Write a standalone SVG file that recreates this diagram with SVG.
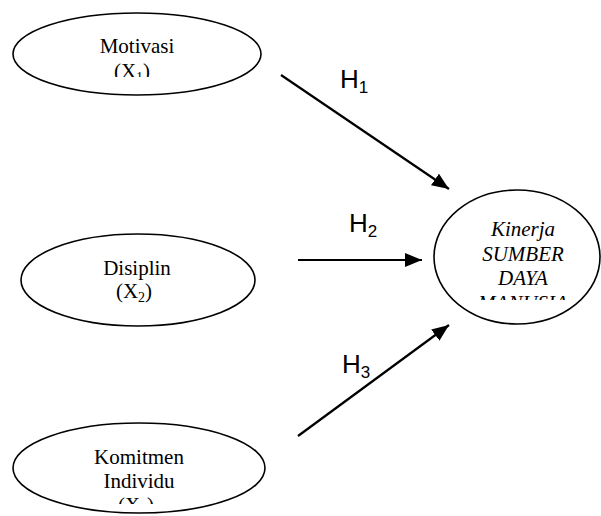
<svg xmlns="http://www.w3.org/2000/svg" width="601" height="516" viewBox="0 0 601 516">
<style>
.node ellipse{fill:#fff;stroke:#000;stroke-width:1.6}
.t{font-family:"Liberation Serif","Times New Roman",serif;font-size:21px;fill:#000;text-anchor:middle}
.it{font-style:italic}
.sub{font-size:14px}
.h{font-family:"Liberation Sans",Arial,sans-serif;font-size:26px;fill:#000}
.hs{font-size:17px}
.edge{stroke:#000;stroke-width:2.2;fill:none;marker-end:url(#ah)}
</style>
<defs>
<marker id="ah" markerUnits="userSpaceOnUse" markerWidth="18" markerHeight="14" refX="17" refY="7" orient="auto">
<path d="M0,0 L17,7 L0,14 z" fill="#000"/>
</marker>
<clipPath id="c1"><rect x="20" y="25" width="240" height="52"/></clipPath>
<clipPath id="c3"><rect x="20" y="440" width="240" height="64"/></clipPath>
<clipPath id="c4"><rect x="440" y="210" width="160" height="90"/></clipPath>
</defs>
<g id="n1" class="node">
<ellipse cx="137" cy="54" rx="124" ry="41"/>
<text class="t" clip-path="url(#c1)"><tspan x="137" y="53">Motivasi</tspan><tspan x="132" y="78">(X<tspan class="sub" dy="4">1</tspan><tspan dy="-4">)</tspan></tspan></text>
</g>
<g id="n2" class="node">
<ellipse cx="138" cy="280" rx="117" ry="46"/>
<text class="t"><tspan x="137" y="275">Disiplin</tspan><tspan x="134" y="298">(X<tspan class="sub" dy="4">2</tspan><tspan dy="-4">)</tspan></tspan></text>
</g>
<g id="n3" class="node">
<ellipse cx="139" cy="468" rx="126" ry="45"/>
<text class="t" clip-path="url(#c3)"><tspan x="139" y="464">Komitmen</tspan><tspan x="139" y="488">Individu</tspan><tspan x="136" y="512">(X<tspan class="sub" dy="4">3</tspan><tspan dy="-4">)</tspan></tspan></text>
</g>
<g id="n4" class="node">
<ellipse cx="517" cy="257" rx="83" ry="67"/>
<text class="t it" clip-path="url(#c4)"><tspan x="523" y="236">Kinerja</tspan><tspan x="523" y="261">SUMBER</tspan><tspan x="523" y="285">DAYA</tspan><tspan x="523" y="310">MANUSIA</tspan></text>
</g>
<g id="edges">
<line class="edge" x1="281" y1="75" x2="449" y2="189"/>
<line class="edge" x1="298" y1="260" x2="422" y2="260"/>
<line class="edge" x1="298" y1="436" x2="449" y2="325"/>
</g>
<g id="labels">
<text class="h" x="340" y="88">H<tspan class="hs" dy="5">1</tspan></text>
<text class="h" x="349" y="232">H<tspan class="hs" dy="5">2</tspan></text>
<text class="h" x="342" y="373">H<tspan class="hs" dy="5">3</tspan></text>
</g>
</svg>
